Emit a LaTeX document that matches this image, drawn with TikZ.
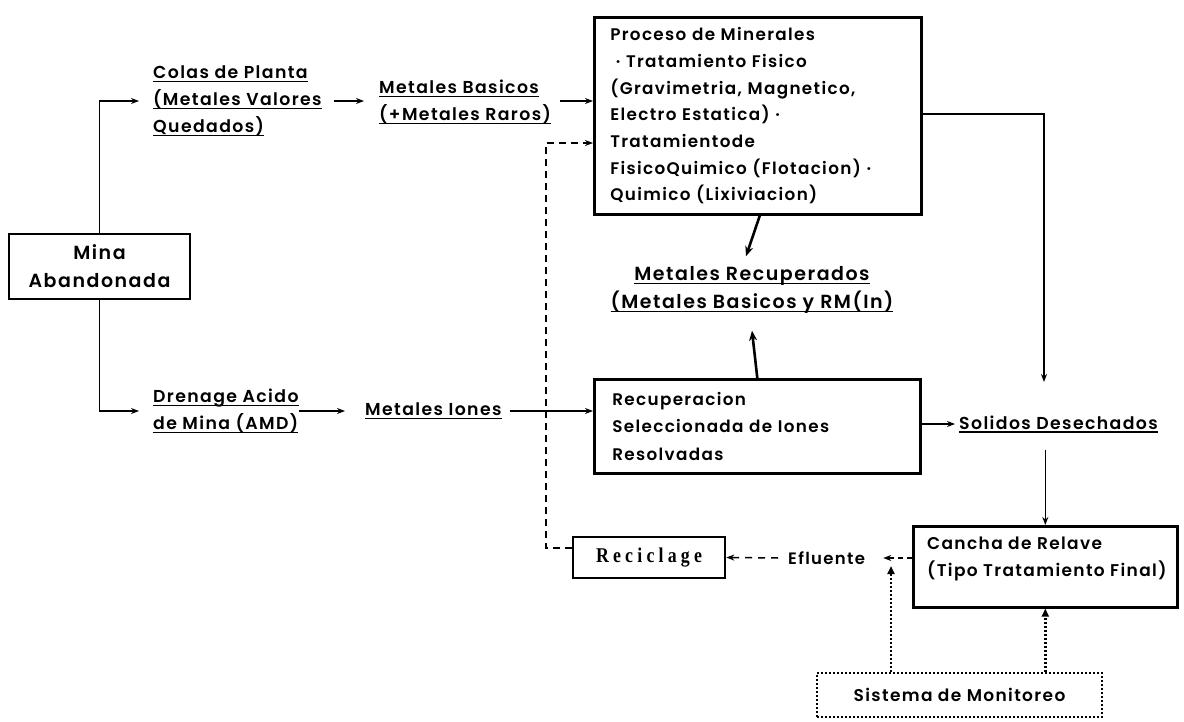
\documentclass[tikz,border=0pt]{standalone}
\usepackage{fontspec}
\usetikzlibrary{arrows.meta}
\newfontfamily\gfont{Poppins SemiBold}[LetterSpace=8]
\newfontfamily\rfont{Liberation Serif}[LetterSpace=20,FakeStretch=0.85]
\newcommand\ulin[1]{\setbox0\hbox{#1}\leavevmode\rlap{\rule[-3.5pt]{\wd0}{1.5pt}}\box0}
\begin{document}
\begin{tikzpicture}[x=1pt,y=-1pt,
  font=\gfont\fontsize{17.3}{27}\selectfont,
  box/.style={draw, line width=2.6pt, inner sep=0pt},
  txt/.style={inner sep=0pt, align=left},
  conn/.style={line width=1.5pt},
  arr/.style={conn, -{Stealth[length=8pt,width=6pt]}},
  tarr/.style={line width=2.6pt, -{Stealth[length=10pt,width=8pt]}},
  darr/.style={arr, dash pattern=on 7pt off 5pt},
  dotarr/.style={line width=2.4pt, dash pattern=on 2pt off 2pt, -{Triangle[length=8pt,width=7pt]}}]
\useasboundingbox (0,0) rectangle (1184,722);

% nodes
\node[box, line width=2pt, minimum width=181, minimum height=65, align=center,
      font=\gfont\fontsize{19}{28}\selectfont] (mina) at (99.5,266.5) {Mina\\Abandonada};
\node[txt, anchor=west] (colas) at (153,101) {\ulin{Colas de Planta}\\\ulin{(Metales Valores}\\\ulin{Quedados)}};
\node[txt, anchor=west] (basicos) at (379,102) {\ulin{Metales Basicos}\\\ulin{(+Metales Raros)}};
\node[box, anchor=north west, minimum width=320, minimum height=197, text width=295,
      align=left, inner xsep=16pt, font=\gfont\fontsize{16.8}{26.7}\selectfont] (proceso) at (593,16)
  {Proceso de Minerales\\
   \ · Tratamiento Fisico\\
   (Gravimetria, Magnetico,\\
   Electro Estatica) ·\\
   Tratamientode\\
   FisicoQuimico (Flotacion) ·\\
   Quimico (Lixiviacion)};
\node[txt, align=center, font=\gfont\fontsize{19}{28}\selectfont] (recup) at (752,290)
  {\ulin{Metales Recuperados}\\\ulin{(Metales Basicos y RM(In)}};
\node[box, anchor=north west, minimum width=317, minimum height=94, text width=290,
      align=left, inner xsep=18pt, font=\gfont\fontsize{16.8}{27.5}\selectfont] (recion) at (593,378)
  {Recuperacion\\Seleccionada de Iones\\Resolvadas};
\node[txt, anchor=west] (drenage) at (153,411) {\ulin{Drenage Acido}\\\ulin{de Mina (AMD)}};
\node[txt, anchor=west] (iones) at (365,411) {\ulin{Metales Iones}};
\node[txt, anchor=west] (solidos) at (959,424) {\ulin{Solidos Desechados}};
\node[box, anchor=north west, minimum width=264, minimum height=81] (cancha) at (912,525) {};
\node[txt, anchor=west, font=\gfont\fontsize{17}{27}\selectfont] (canchatxt) at (927,559)
  {Cancha de Relave\\(Tipo Tratamiento Final)};
\node[box, minimum width=152, minimum height=41, font=\rfont\bfseries\fontsize{21}{22}\selectfont] (recic) at (649,557.5) {Reciclage};
\node[txt, anchor=west, font=\gfont\fontsize{16.5}{20}\selectfont] (eflu) at (788,558) {Efluente};
\node[draw, line width=2.4pt, dash pattern=on 2pt off 2pt, inner sep=0pt,
      minimum width=285, minimum height=44, font=\gfont\fontsize{17}{20}\selectfont] (sist) at (959.5,695) {Sistema de Monitoreo};

% coordinates
\coordinate (dc) at (546,548);
\coordinate (dt) at (546,143);
\coordinate (pr) at (1044,114);
\coordinate (pe) at (1044,382);
\coordinate (mx) at (891,566);

% connectors
\draw[arr] (mina.north) |- ([xshift=-14pt]colas.west);
\draw[arr] (mina.south) |- ([xshift=-14pt]drenage.west);
\draw[arr] ([xshift=12pt]colas.east |- colas.west) -- ([xshift=-15pt]basicos.west |- colas.west);
\draw[arr] ([xshift=9pt]basicos.east |- colas.west) -- (proceso.west |- colas.west);
\draw[darr] (recic.west |- dc) -- (dc) -- (dt) -- (proceso.west |- dt);
\draw[arr] (proceso.east |- pr) -- (pr) -- (pe);
\draw[tarr] ([xshift=2pt]proceso.south) -- ([xshift=-6pt,yshift=10pt]recup.north);
\draw[tarr] (recion.north) -- ([yshift=-17pt]recup.south);
\draw[arr] (drenage.east) -- ([xshift=-20pt]iones.west);
\draw[arr] ([xshift=8pt]iones.east) -- (recion.west |- iones.east);
\draw[arr] (recion.east |- solidos.west) -- ([xshift=-4pt]solidos.west);
\draw[arr] ([yshift=-17pt]solidos.south -| cancha.north) -- (cancha.north);
\draw[arr, dash pattern=on 5pt off 4pt] (cancha.west |- eflu.east) -- ([xshift=18pt]eflu.east);
\draw[arr, dash pattern=on 7pt off 6pt] ([xshift=-10pt]eflu.west) -- (recic.east);
\draw[dotarr] (sist.north -| mx) -- (mx);
\draw[dotarr] (sist.north -| cancha.south) -- (cancha.south);
\end{tikzpicture}
\end{document}
